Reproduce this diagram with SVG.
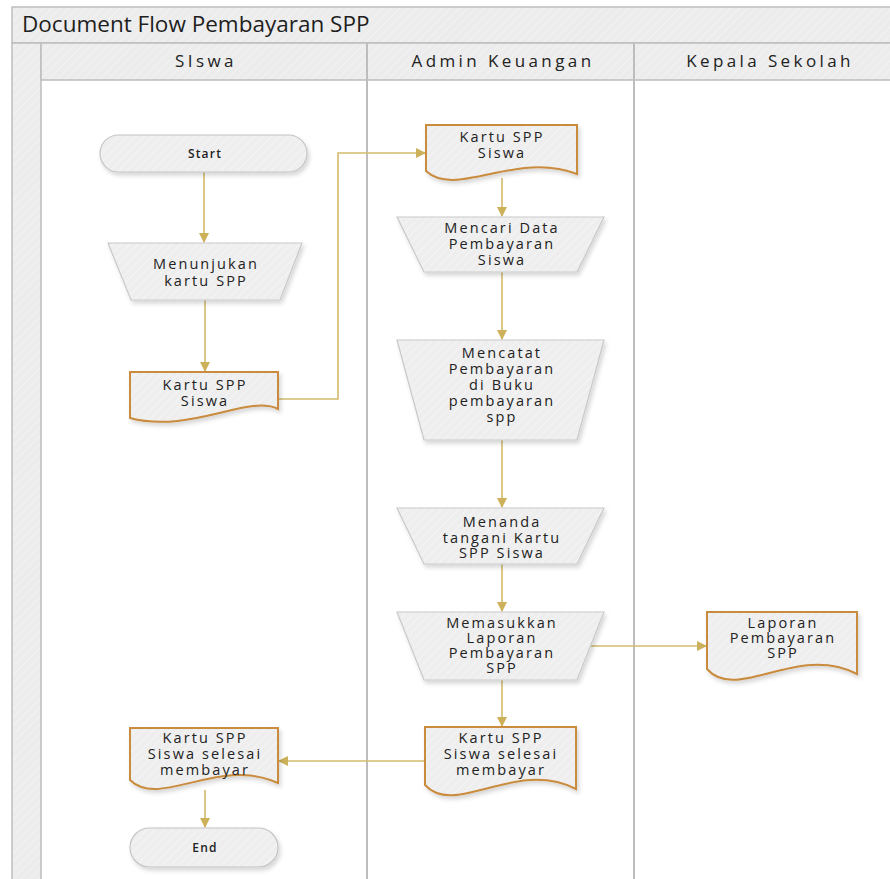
<svg xmlns="http://www.w3.org/2000/svg" width="890" height="879" viewBox="0 0 890 879">
  <defs>
    <pattern id="hatch" patternUnits="userSpaceOnUse" width="6" height="6" patternTransform="rotate(45)">
      <rect width="6" height="6" fill="#ececec"/>
      <line x1="0" y1="0" x2="0" y2="6" stroke="#f2f2f2" stroke-width="2"/>
    </pattern>
    <pattern id="hatchShape" patternUnits="userSpaceOnUse" width="6" height="6" patternTransform="rotate(45)">
      <rect width="6" height="6" fill="#eeeeee"/>
      <line x1="0" y1="0" x2="0" y2="6" stroke="#f4f4f4" stroke-width="2"/>
    </pattern>
    <filter id="shadow" x="-10%" y="-10%" width="130%" height="140%">
      <feDropShadow dx="2" dy="3" stdDeviation="2" flood-color="#000" flood-opacity="0.16"/>
    </filter>
    <marker id="arrow" markerWidth="10" markerHeight="10" refX="9" refY="5" orient="auto" markerUnits="userSpaceOnUse">
      <path d="M0,0 L10,5 L0,10 Z" fill="#cdb05a"/>
    </marker>
    <style>
      .frame { fill: url(#hatch); stroke: #bdbdbd; stroke-width: 1.5; }
      .line { stroke: #bdbdbd; stroke-width: 2; fill: none; }
      .title { font-family: "Open Sans", "Noto Sans", sans-serif; font-size: 22.5px; fill: #1e1e1e; }
      .lane { font-family: "Open Sans", "Noto Sans", sans-serif; font-size: 17px; fill: #222; letter-spacing: 3.4px; text-anchor: middle; }
      .proc { fill: url(#hatchShape); stroke: #c9c9c9; stroke-width: 1.2; filter: url(#shadow); }
      .doc { fill: url(#hatchShape); stroke: #c98b3c; stroke-width: 2; filter: url(#shadow); }
      .term { fill: url(#hatchShape); stroke: #c4c4c4; stroke-width: 1.2; filter: url(#shadow); }
      .t { font-family: "Open Sans", "Noto Sans", sans-serif; font-size: 14.5px; fill: #222; letter-spacing: 2.1px; text-anchor: middle; }
      .ts { font-family: "Open Sans", "Noto Sans", sans-serif; font-size: 12px; font-weight: 600; fill: #222; letter-spacing: 1.2px; text-anchor: middle; }
      .conn { stroke: #d3bb6c; stroke-width: 1.6; fill: none; marker-end: url(#arrow); }
    </style>
  </defs>

  <rect width="890" height="879" fill="#ffffff"/>

  <!-- pool frame: title bar, left strip, lane header row and lane dividers -->
  <g id="pool">
    <rect class="frame" x="12" y="7" width="890" height="36"/>
    <rect class="frame" x="12" y="43" width="29" height="850"/>
    <rect class="frame" x="41" y="43" width="860" height="37"/>
    <line class="line" x1="367" y1="43" x2="367" y2="879"/>
    <line class="line" x1="634" y1="43" x2="634" y2="879"/>
    <text class="title" x="22" y="32">Document Flow Pembayaran SPP</text>
  </g>

  <g id="lane-siswa"><text class="lane" x="206" y="67">SIswa</text></g>
  <g id="lane-admin"><text class="lane" x="503" y="67">Admin Keuangan</text></g>
  <g id="lane-kepala"><text class="lane" x="770" y="67">Kepala Sekolah</text></g>

  <!-- connectors -->
  <g id="connectors">
    <path class="conn" d="M204,172 V242"/>
    <path class="conn" d="M205,300 V371"/>
    <path class="conn" d="M278,399 H338 V153 H425"/>
    <path class="conn" d="M502,178 V216"/>
    <path class="conn" d="M502,272 V339"/>
    <path class="conn" d="M502,440 V507"/>
    <path class="conn" d="M502,564 V611"/>
    <path class="conn" d="M590,646 H706"/>
    <path class="conn" d="M502,680 V726"/>
    <path class="conn" d="M425,761 H279"/>
    <path class="conn" d="M205,790 V827"/>
  </g>

  <g id="start">
    <rect class="term" x="100" y="135" width="207" height="37" rx="18.5"/>
    <text class="ts" x="205" y="158">Start</text>
  </g>

  <g id="menunjukan">
    <path class="proc" d="M108,243 H302 L280,300 H131 Z"/>
    <text class="t" x="206" y="269">Menunjukan</text>
    <text class="t" x="206" y="286">kartu SPP</text>
  </g>

  <g id="kartu-siswa">
    <path class="doc" d="M130,372 H278 V409 C248.8,394 189.6,434 130,418 Z"/>
    <text class="t" x="205" y="390">Kartu SPP</text>
    <text class="t" x="205" y="406">Siswa</text>
  </g>

  <g id="kartu-admin">
    <path class="doc" d="M426,125 H577 V174 C516.6,150 456.4,199 426,171 Z"/>
    <text class="t" x="502" y="142">Kartu SPP</text>
    <text class="t" x="502" y="158">Siswa</text>
  </g>

  <g id="mencari">
    <path class="proc" d="M397,217 H604 L577,272 H424 Z"/>
    <text class="t" x="502" y="233">Mencari Data</text>
    <text class="t" x="502" y="249">Pembayaran</text>
    <text class="t" x="502" y="265">Siswa</text>
  </g>

  <g id="mencatat">
    <path class="proc" d="M397,340 H604 L577,440 H424 Z"/>
    <text class="t" x="502" y="358">Mencatat</text>
    <text class="t" x="502" y="374">Pembayaran</text>
    <text class="t" x="502" y="390">di Buku</text>
    <text class="t" x="502" y="406">pembayaran</text>
    <text class="t" x="502" y="422">spp</text>
  </g>

  <g id="menanda">
    <path class="proc" d="M397,508 H604 L577,564 H424 Z"/>
    <text class="t" x="502" y="527">Menanda</text>
    <text class="t" x="502" y="543">tangani Kartu</text>
    <text class="t" x="502" y="558">SPP Siswa</text>
  </g>

  <g id="memasukkan">
    <path class="proc" d="M397,612 H604 L577,680 H424 Z"/>
    <text class="t" x="502" y="628">Memasukkan</text>
    <text class="t" x="502" y="643">Laporan</text>
    <text class="t" x="502" y="658">Pembayaran</text>
    <text class="t" x="502" y="673">SPP</text>
  </g>

  <g id="laporan">
    <path class="doc" d="M707,612 H857 V674 C797,643 737,703 707,669 Z"/>
    <text class="t" x="783" y="628">Laporan</text>
    <text class="t" x="783" y="643">Pembayaran</text>
    <text class="t" x="783" y="658">SPP</text>
  </g>

  <g id="selesai-admin">
    <path class="doc" d="M425,727 H576 V789 C515.6,758 455.4,818 425,785 Z"/>
    <text class="t" x="501" y="743">Kartu SPP</text>
    <text class="t" x="501" y="759">Siswa selesai</text>
    <text class="t" x="501" y="775">membayar</text>
  </g>

  <g id="selesai-siswa">
    <path class="doc" d="M130,728 H278 V783 C218.8,756 159.6,809 130,780 Z"/>
    <text class="t" x="205" y="743">Kartu SPP</text>
    <text class="t" x="205" y="759">Siswa selesai</text>
    <text class="t" x="205" y="775">membayar</text>
  </g>

  <g id="end">
    <rect class="term" x="130" y="828" width="148" height="39" rx="19.5"/>
    <text class="ts" x="205" y="852">End</text>
  </g>
</svg>
